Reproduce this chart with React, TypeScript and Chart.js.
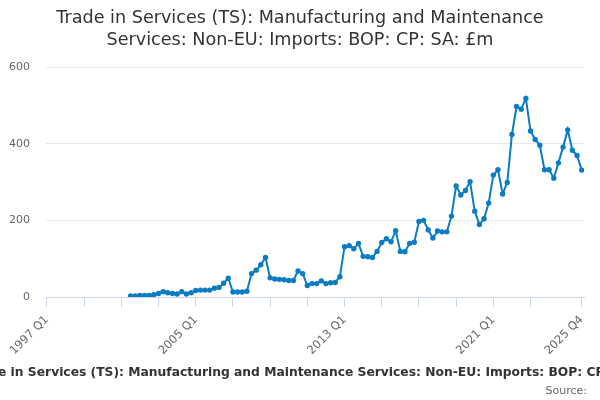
import { useEffect, useRef } from "react"
import { Chart, type ChartConfiguration, type Plugin, registerables } from "chart.js"

Chart.register(...registerables)

const TITLE = "Trade in Services (TS): Manufacturing and Maintenance Services: Non-EU: Imports: BOP: CP: SA: £m"
const titleLines = ["Trade in Services (TS): Manufacturing and Maintenance", "Services: Non-EU: Imports: BOP: CP: SA: £m"]

// quarters 1997 Q1 .. 2025 Q4
const firstYear = 1997
const lastYear = 2025
const quarters: string[] = []
for (let y = firstYear; y <= lastYear; y++) {
  for (let q = 1; q <= 4; q++) quarters.push(`${y} Q${q}`)
}

const labelledQuarters = ["1997 Q1", "2005 Q1", "2013 Q1", "2021 Q1", "2025 Q4"]
const yTicks = [0, 200, 400, 600]

// series starts at 2001 Q3
const seriesStart = "2001 Q3"
const imports = [
  3, 3, 4, 4, 4, 6, 9, 14, 11, 9, 8, 14, 8, 11, 17, 18, 18, 18, 23, 25,
  36, 49, 13, 13, 13, 15, 61, 70, 84, 103, 50, 47, 46, 45, 43, 43, 68, 61,
  30, 35, 35, 42, 35, 37, 38, 53, 131, 134, 126, 140, 106, 105, 103, 119,
  142, 152, 144, 173, 119, 118, 140, 143, 197, 200, 175, 154, 172, 170, 170, 211,
  290, 266, 278, 301, 224, 189, 204, 245, 318, 332, 269, 299, 424, 497, 490, 518,
  433, 411, 396, 332, 332, 310, 350, 391, 436, 383, 369, 331,
]

const FONT = "'DejaVu Sans', Verdana, sans-serif"

const textPlugin: Plugin = {
  id: "texts",
  afterDraw(chart) {
    const ctx = chart.ctx
    ctx.save()
    ctx.fillStyle = "#333333"
    ctx.textBaseline = "middle"
    ctx.textAlign = "center"
    ctx.font = `17.6px ${FONT}`
    ctx.fillText(titleLines[0], 300, 18)
    ctx.fillText(titleLines[1], 300, 40)

    ctx.font = `bold 12.3px ${FONT}`
    ctx.textAlign = "left"
    const cut = ctx.measureText("Trad").width + 2
    ctx.fillText(TITLE, -cut, 373)

    ctx.font = `11px ${FONT}`
    ctx.fillStyle = "#666666"
    ctx.textAlign = "right"
    ctx.fillText("Source:", 587, 391)
    ctx.restore()
  },
}

export default function App() {
  const canvasRef = useRef<HTMLCanvasElement>(null)

  useEffect(() => {
    if (!canvasRef.current) return
    const startIdx = quarters.indexOf(seriesStart)
    const points = imports.map((v, k) => ({ x: startIdx + k, y: v }))
    const tickValues: number[] = []
    for (let i = 0; i < quarters.length - 4; i += 8) tickValues.push(i)
    tickValues.push(quarters.length - 1)

    const config: ChartConfiguration<"line"> = {
      type: "line",
      data: {
        datasets: [
          {
            label: "Imports",
            data: points,
            borderColor: "#0b7cc3",
            backgroundColor: "#0b7cc3",
            borderWidth: 2,
            pointRadius: 1.7,
            pointHoverRadius: 3,
            tension: 0,
          },
        ],
      },
      options: {
        responsive: false,
        animation: false,
        layout: { padding: { left: 0, top: 67, right: 16, bottom: 0 } },
        plugins: {
          legend: { display: false },
          title: { display: false },
          tooltip: { enabled: false },
        },
        scales: {
          x: {
            type: "linear",
            min: -0.2,
            max: quarters.length - 0.5,
            afterBuildTicks: (scale) => {
              scale.ticks = tickValues.map((v) => ({ value: v }))
            },
            afterFit: (scale) => {
              scale.height = 103
            },
            border: { display: true, color: "#ccd6eb", width: 1 },
            grid: {
              drawOnChartArea: false,
              drawTicks: true,
              tickLength: 10,
              color: "#ccd6eb",
            },
            ticks: {
              autoSkip: false,
              maxRotation: 45,
              minRotation: 45,
              padding: 6,
              color: "#666666",
              font: { family: FONT, size: 11.5 },
              callback: (value) => {
                const label = quarters[Number(value)]
                return labelledQuarters.includes(label) ? label : ""
              },
            },
          },
          y: {
            min: 0,
            max: 600,
            afterBuildTicks: (scale) => {
              scale.ticks = yTicks.map((v) => ({ value: v }))
            },
            afterFit: (scale) => {
              scale.width = 46
            },
            border: { display: false },
            grid: { color: "#e6e6e6", drawTicks: false },
            ticks: {
              padding: 16,
              color: "#666666",
              font: { family: FONT, size: 11 },
            },
          },
        },
      },
      plugins: [textPlugin],
    }

    const chart = new Chart(canvasRef.current, config)
    return () => chart.destroy()
  }, [])

  return (
    <div style={{ position: "absolute", left: 0, top: 0, width: 600, height: 400, background: "#fff" }}>
      <canvas ref={canvasRef} width={600} height={400} style={{ width: 600, height: 400 }} />
    </div>
  )
}
